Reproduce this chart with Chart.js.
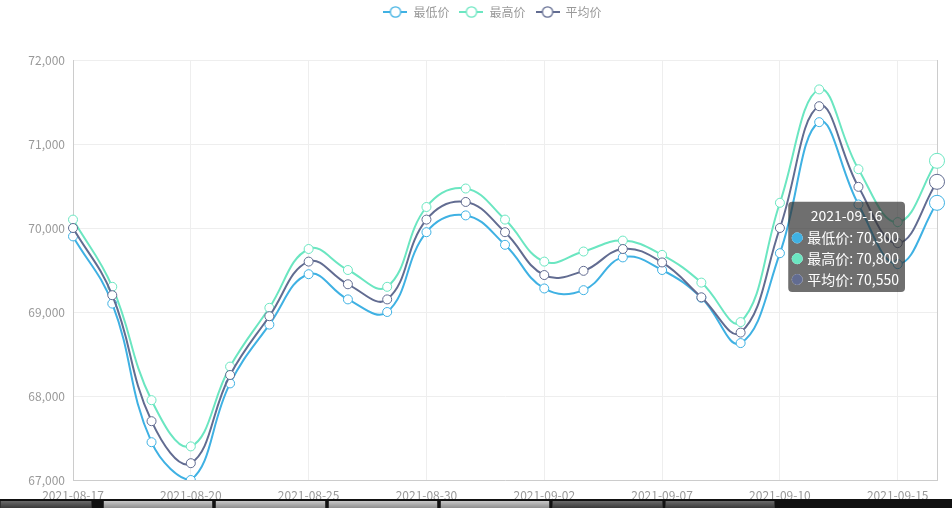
<!DOCTYPE html>
<html>
<head>
<meta charset="utf-8">
<script src="https://cdn.jsdelivr.net/npm/chart.js@4/dist/chart.umd.min.js"></script>
<style>
  html, body { margin: 0; padding: 0; background: #fff; }
  #wrap { position: relative; width: 952px; height: 508px; overflow: hidden; }
  #c { display: block; }
  .bar { position: absolute; left: 0; top: 499px; width: 952px; height: 9px; background: #111; }
  .btn { position: absolute; top: 501px; height: 7px; background: linear-gradient(#c8c8c8, #8e8e8e); border-left: 1px solid #333; border-right: 1px solid #333; }
  .btn.dark { background: linear-gradient(#6a6a6a, #3a3a3a); }
</style>
</head>
<body>
<div id="wrap">
  <canvas id="c" width="952" height="508"></canvas>
  <div class="bar"></div>
  <div class="btn dark" style="left:0;width:90px"></div>
  <div class="btn" style="left:103px;width:108px"></div>
  <div class="btn" style="left:215px;width:109px"></div>
  <div class="btn" style="left:328px;width:108px"></div>
  <div class="btn" style="left:440px;width:108px"></div>
  <div class="btn dark" style="left:552px;width:109px"></div>
  <div class="btn dark" style="left:665px;width:108px"></div>
</div>
<script>
// ---- data ----
const dates = ['2021-08-17','2021-08-18','2021-08-19','2021-08-20','2021-08-23','2021-08-24','2021-08-25','2021-08-26','2021-08-27','2021-08-30','2021-08-31','2021-09-01','2021-09-02','2021-09-03','2021-09-06','2021-09-07','2021-09-08','2021-09-09','2021-09-10','2021-09-13','2021-09-14','2021-09-15','2021-09-16'];
const seriesNames = ['最低价', '最高价', '平均价'];
const minPrice = [69900,69100,67450,67000,68150,68850,69450,69150,69000,69950,70150,69800,69280,69260,69650,69500,69170,68630,69700,71260,70280,69570,70300];
const maxPrice = [70100,69300,67950,67400,68350,69050,69750,69500,69300,70250,70470,70100,69600,69720,69850,69680,69350,68880,70300,71650,70700,70070,70800];
const avgPrice = [70000,69200,67700,67200,68250,68950,69600,69330,69150,70100,70310,69950,69440,69490,69750,69590,69175,68755,70000,71450,70490,69820,70550];
const yTicks = [67000, 68000, 69000, 70000, 71000, 72000];
const labelEvery = 3;

const colors = ['#3fb1e3', '#6be6c1', '#626c91'];
const FONT = "'Noto Sans CJK SC', 'Noto Sans', sans-serif";

function legendIcon(color) {
  const cv = document.createElement('canvas');
  cv.width = 24; cv.height = 14;
  const g = cv.getContext('2d');
  g.strokeStyle = color; g.lineWidth = 2;
  g.beginPath(); g.moveTo(0, 7); g.lineTo(24, 7); g.stroke();
  g.beginPath(); g.arc(12, 7, 5.2, 0, Math.PI * 2);
  g.fillStyle = '#fff'; g.fill();
  g.lineWidth = 1.3; g.stroke();
  return cv;
}
const icons = colors.map(legendIcon);

function ds(i, data, order) {
  return {
    label: seriesNames[i],
    data: data,
    order: order,
    borderColor: colors[i],
    backgroundColor: colors[i],
    borderWidth: 2,
    tension: 0.42,
    fill: false,
    pointRadius: 4.5,
    pointBorderWidth: 1,
    pointBackgroundColor: '#fff',
    pointBorderColor: colors[i],
    pointHoverRadius: 7.5,
    pointHoverBorderWidth: 1,
    pointHoverBackgroundColor: '#fff',
    pointHoverBorderColor: colors[i]
  };
}

Chart.Tooltip.positioners.sideLeft = function (elements) {
  if (!elements.length) return false;
  let sy = 0;
  elements.forEach(e => { sy += e.element.y; });
  return { x: elements[0].element.x - 32, y: sy / elements.length + 65, xAlign: 'right', yAlign: 'center' };
};

const legendSpacer = {
  id: 'legendSpacer',
  afterInit(chart) {
    const lg = chart.legend;
    const orig = lg.fit.bind(lg);
    lg.fit = function () { orig(); this.height = 64; };
  },
  afterLayout(chart) {
    // legend is centred over a band that starts 48px in from the left edge
    chart.legend.left = 48;
  }
};

const chart = new Chart(document.getElementById('c'), {
  type: 'line',
  data: {
    labels: dates,
    datasets: [ds(0, minPrice, 2), ds(1, maxPrice, 1), ds(2, avgPrice, 0)]
  },
  plugins: [legendSpacer],
  options: {
    responsive: false,
    animation: false,
    events: [],
    layout: { padding: { left: 0, right: 15, top: -4, bottom: 0 } },
    font: { family: FONT },
    scales: {
      x: {
        type: 'category',
        offset: false,
        border: { display: true, color: '#ccc', width: 1 },
        grid: {
          drawTicks: false,
          color: (ctx) => {
            const i = ctx.index;
            if (i === 0) return 'rgba(0,0,0,0)';
            if (i === dates.length - 1) return '#ccc';
            return i % labelEvery === 0 ? '#eee' : 'rgba(0,0,0,0)';
          }
        },
        ticks: {
          autoSkip: false,
          maxRotation: 0,
          padding: 8,
          color: '#999',
          font: { family: FONT, size: 12 },
          callback: function (v, i) { return (i % labelEvery === 0 && i < dates.length - 1) ? dates[i] : ''; }
        },
        afterFit: (s) => { s.height = 28; }
      },
      y: {
        min: yTicks[0],
        max: yTicks[yTicks.length - 1],
        border: { display: true, color: '#ccc', width: 1 },
        grid: { color: '#eee', drawTicks: false },
        afterBuildTicks: (s) => { s.ticks = yTicks.map(v => ({ value: v })); },
        ticks: {
          padding: 8,
          color: '#999',
          font: { family: FONT, size: 12 },
          callback: (v) => v.toLocaleString('en-US')
        },
        afterFit: (s) => { s.width = 73; }
      }
    },
    plugins: {
      legend: {
        position: 'top',
        align: 'center',
        labels: {
          usePointStyle: true,
          pointStyleWidth: 24,
          padding: 10,
          color: '#999',
          font: { family: FONT, size: 12 },
          generateLabels: (c) => c.data.datasets.map((d, i) => ({
            text: d.label,
            pointStyle: icons[i],
            fillStyle: colors[i],
            strokeStyle: colors[i],
            lineWidth: 0,
            hidden: false,
            datasetIndex: i,
            fontColor: '#999'
          }))
        }
      },
      tooltip: {
        enabled: true,
        animation: false,
        position: 'sideLeft',
        xAlign: 'right',
        yAlign: 'center',
        caretSize: 0,
        caretPadding: 0,
        backgroundColor: 'rgba(50,50,50,0.7)',
        cornerRadius: 4,
        padding: { left: 4, right: 6, top: 6, bottom: 4 },
        titleAlign: 'center',
        titleColor: '#fff',
        bodyColor: '#fff',
        titleFont: { family: FONT, size: 14, weight: 'normal' },
        bodyFont: { family: FONT, size: 14 },
        titleMarginBottom: 5,
        bodySpacing: 4,
        usePointStyle: true,
        boxWidth: 10,
        boxHeight: 10,
        boxPadding: 3,
        callbacks: {
          labelColor: (ctx) => ({ borderColor: colors[ctx.datasetIndex], backgroundColor: colors[ctx.datasetIndex], borderWidth: 0 }),
          labelPointStyle: () => ({ pointStyle: 'circle', rotation: 0 })
        }
      }
    }
  }
});

const last = dates.length - 1;
const act = [0, 1, 2].map(d => ({ datasetIndex: d, index: last }));
chart.setActiveElements(act);
chart.tooltip.setActiveElements(act, { x: 0, y: 0 });
chart.update();
</script>
</body>
</html>
